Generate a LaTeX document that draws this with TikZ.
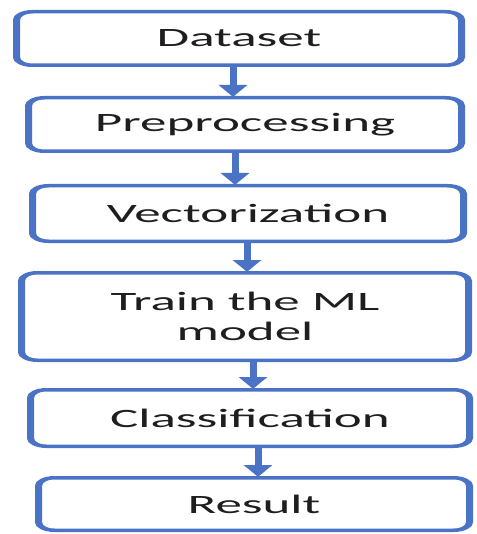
\documentclass[tikz,border=0pt]{standalone}
\usepackage{fontspec}
\setmainfont{Carlito}
\usetikzlibrary{arrows.meta}
\definecolor{bblue}{HTML}{4A73C5}
\definecolor{txt}{HTML}{1E1E1E}
\tikzset{
  box/.style={draw=bblue, line width=3.5pt, fill=white, rounded corners=8pt,
    inner sep=0pt, align=center, text=txt,
    font=\fontsize{26.5pt}{30pt}\selectfont},
  arr/.style={draw=bblue, line width=3.5pt,
    -{Triangle[width=13.5pt,length=12pt]}, shorten >=-1pt}
}
\begin{document}
\begin{tikzpicture}[x=1pt,y=-1pt]
\useasboundingbox[fill=white] (0,0) rectangle (476,534);
\begin{scope}[transform canvas={xscale=2}]
\node[box, minimum width=222.5pt, minimum height=53.5pt] (b1) at (119.5,38.5) {Dataset};
\node[box, minimum width=216.5pt, minimum height=53.5pt] (b2) at (122.5,124.5) {Preprocessing};
\node[box, minimum width=215.5pt, minimum height=55.5pt] (b3) at (124,213.5) {Vectorization};
\node[box, minimum width=223.5pt, minimum height=87.5pt] (b4) at (122.5,316.5) {Train the ML\\model};
\node[box, minimum width=219.5pt, minimum height=56.5pt] (b5) at (125,418) {Classification};
\node[box, minimum width=215.5pt, minimum height=52.5pt] (b6) at (127,504) {Result};
\coordinate (a1) at (116.5,0);
\coordinate (a2) at (117.5,0);
\coordinate (a3) at (123.5,0);
\coordinate (a4) at (126.5,0);
\coordinate (a5) at (129,0);
\draw[arr] (b1.south -| a1) -- (b2.north -| a1);
\draw[arr] (b2.south -| a2) -- (b3.north -| a2);
\draw[arr] (b3.south -| a3) -- (b4.north -| a3);
\draw[arr] (b4.south -| a4) -- (b5.north -| a4);
\draw[arr] (b5.south -| a5) -- (b6.north -| a5);
\end{scope}
\end{tikzpicture}
\end{document}
